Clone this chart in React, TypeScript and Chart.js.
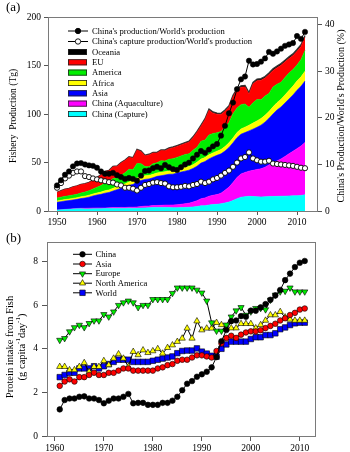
import React, { useEffect, useRef } from "react";
import { Chart, registerables } from "chart.js";

Chart.register(...registerables);

const FONT = "'Liberation Serif', 'Times New Roman', serif";

// ---------------- Panel (a) data ----------------
const yearsA = [
  1950, 1951, 1952, 1953, 1954, 1955, 1956, 1957, 1958, 1959,
  1960, 1961, 1962, 1963, 1964, 1965, 1966, 1967, 1968, 1969,
  1970, 1971, 1972, 1973, 1974, 1975, 1976, 1977, 1978, 1979,
  1980, 1981, 1982, 1983, 1984, 1985, 1986, 1987, 1988, 1989,
  1990, 1991, 1992, 1993, 1994, 1995, 1996, 1997, 1998, 1999,
  2000, 2001, 2002, 2003, 2004, 2005, 2006, 2007, 2008, 2009,
  2010, 2011, 2012,
];

const chinaCapture = [
  1.0, 1.2, 1.5, 1.7, 2.0, 2.2, 2.3, 2.1, 2.1, 2.2,
  2.3, 2.4, 2.5, 2.5, 2.7, 2.6, 2.7, 2.6, 2.8, 2.7,
  2.8, 3.0, 3.2, 3.4, 3.7, 3.7, 3.7, 3.7, 3.5, 3.4,
  3.4, 3.5, 3.7, 3.8, 4.2, 4.6, 5.4, 5.5, 6.2, 6.7,
  6.9, 7.4, 8.3, 9.2, 10.8, 12.6, 14.2, 14.8, 15.1, 14.9,
  14.8, 14.5, 14.6, 15.0, 15.0, 15.1, 15.2, 15.3, 15.5, 15.6,
  15.8, 16.0, 16.7,
];

const chinaAqua = [
  0.1, 0.1, 0.2, 0.2, 0.3, 0.4, 0.5, 0.7, 0.8, 0.9,
  0.9, 0.8, 0.7, 0.8, 0.9, 0.9, 1.0, 1.0, 1.1, 1.2,
  1.3, 1.6, 1.8, 1.7, 1.9, 2.0, 2.1, 2.4, 2.6, 2.8,
  3.0, 3.4, 3.8, 4.3, 5.0, 6.0, 7.2, 8.0, 9.0, 9.5,
  10.0, 11.0, 13.0, 15.5, 18.5, 22.0, 24.0, 25.0, 26.0, 27.0,
  28.0, 29.0, 30.5, 32.5, 34.5, 36.5, 38.5, 41.0, 43.5, 46.0,
  48.5, 51.0, 54.0,
];

const asia = [
  7.9, 8.3, 8.6, 8.8, 9.1, 9.4, 10.0, 10.6, 11.4, 12.4,
  13.3, 14.0, 15.2, 15.8, 17.0, 18.5, 19.8, 21.0, 22.6, 23.5,
  25.9, 26.8, 27.6, 28.0, 28.6, 30.0, 30.6, 31.0, 31.8, 31.8,
  32.8, 33.2, 33.6, 34.0, 34.6, 35.6, 36.8, 37.5, 38.5, 39.5,
  40.5, 40.5, 40.5, 40.8, 41.0, 41.0, 41.0, 41.0, 41.5, 42.5,
  43.5, 45.0, 46.5, 48.0, 50.5, 52.5, 53.5, 55.0, 56.5, 58.0,
  60.2, 61.5, 63.3,
];

const africa = [
  1.4, 1.5, 1.5, 1.6, 1.6, 1.7, 1.8, 1.9, 2.0, 2.0,
  2.1, 2.3, 2.5, 2.6, 2.8, 3.0, 3.2, 3.3, 3.5, 3.7,
  4.0, 3.9, 3.7, 3.6, 3.6, 3.5, 3.5, 3.4, 3.4, 3.4,
  3.5, 3.6, 3.7, 3.8, 3.9, 4.0, 4.1, 4.1, 4.2, 4.2,
  4.3, 4.5, 4.6, 4.8, 5.0, 5.2, 5.4, 5.6, 5.8, 6.2,
  6.6, 6.8, 7.0, 7.2, 7.4, 7.6, 8.0, 8.4, 8.8, 9.2,
  9.6, 9.8, 10.0,
];

const america = [
  3.0, 3.2, 3.3, 3.4, 3.5, 3.6, 4.0, 4.2, 4.6, 5.2,
  5.8, 6.8, 8.0, 8.2, 10.0, 9.0, 10.2, 11.5, 13.0, 11.5,
  15.0, 13.5, 9.5, 9.0, 11.0, 10.5, 12.0, 11.0, 12.0, 12.5,
  12.5, 13.0, 13.5, 13.0, 15.0, 15.5, 18.5, 18.0, 20.5, 20.0,
  19.0, 18.5, 20.0, 21.0, 25.0, 25.5, 25.0, 24.0, 18.5, 21.0,
  22.0, 19.5, 20.0, 18.5, 20.5, 19.0, 17.5, 18.0, 18.0, 17.0,
  16.5, 18.0, 21.5,
];

const eu = [
  5.6, 6.4, 7.1, 7.3, 8.2, 8.4, 8.6, 8.4, 8.2, 8.9,
  9.7, 10.8, 11.7, 11.6, 12.1, 12.0, 12.6, 12.6, 12.4, 11.8,
  13.9, 12.6, 11.1, 12.1, 11.0, 10.1, 10.4, 10.7, 10.9, 11.3,
  11.4, 11.4, 11.3, 12.1, 12.8, 15.5, 15.5, 21.0, 25.5, 21.0,
  19.0, 17.5, 16.5, 16.0, 17.5, 18.5, 18.0, 17.5, 13.8, 19.5,
  19.5, 20.0, 18.5, 19.5, 17.0, 17.1, 17.6, 16.1, 15.0, 14.4,
  14.1, 13.4, 13.7,
];

const oceania = [
  0.3, 0.3, 0.3, 0.3, 0.3, 0.3, 0.3, 0.3, 0.4, 0.4,
  0.4, 0.4, 0.4, 0.5, 0.5, 0.5, 0.5, 0.5, 0.6, 0.6,
  0.6, 0.6, 0.6, 0.7, 0.7, 0.7, 0.7, 0.8, 0.8, 0.8,
  0.9, 0.9, 0.9, 1.0, 1.0, 1.0, 1.1, 1.1, 1.2, 1.2,
  1.3, 1.3, 1.3, 1.3, 1.4, 1.4, 1.4, 1.5, 1.5, 1.5,
  1.6, 1.6, 1.6, 1.6, 1.7, 1.7, 1.7, 1.7, 1.7, 1.8,
  1.8, 1.8, 1.8,
];

// China's production / World's production (%)
const chinaShare = [
  5.5, 6.6, 7.8, 8.5, 9.6, 10.2, 10.3, 10.0, 9.8, 9.7,
  9.3, 8.5, 8.0, 8.0, 8.2, 7.7, 7.3, 6.9, 7.1, 6.9,
  6.5, 7.6, 8.6, 8.7, 9.2, 9.5, 9.2, 9.9, 9.4, 9.0,
  8.8, 9.4, 10.0, 10.4, 11.3, 12.1, 12.9, 12.5, 13.2, 13.9,
  14.4, 16.2, 18.3, 21.0, 23.3, 26.2, 28.3, 28.9, 32.3, 31.5,
  31.6, 32.1, 32.8, 34.2, 33.8, 34.3, 34.9, 35.5, 35.8, 36.1,
  37.6, 37.0, 38.5,
];

// China's capture production / World's production (%)
const chinaCaptureShare = [
  5.0, 6.0, 7.0, 7.6, 8.2, 8.5, 8.5, 7.5, 7.3, 7.0,
  6.8, 6.6, 6.4, 6.2, 6.1, 5.7, 5.5, 5.0, 5.0, 4.8,
  4.4, 5.0, 5.6, 5.8, 6.1, 6.2, 6.0, 5.9, 5.3, 5.1,
  5.1, 5.2, 5.4, 5.3, 5.6, 5.8, 6.3, 6.0, 6.3, 6.8,
  7.1, 7.6, 8.2, 8.7, 9.5, 10.4, 11.3, 11.6, 12.6, 11.3,
  10.9, 10.6, 10.6, 10.8, 10.2, 10.1, 10.0, 9.9, 9.8, 9.7,
  9.5, 9.3, 9.2,
];

const ticksA_left = [0, 50, 100, 150, 200];
const ticksA_right = [0, 10, 20, 30, 40];

// ---------------- Panel (b) data ----------------
const yearsB = [
  1961, 1962, 1963, 1964, 1965, 1966, 1967, 1968, 1969, 1970,
  1971, 1972, 1973, 1974, 1975, 1976, 1977, 1978, 1979, 1980,
  1981, 1982, 1983, 1984, 1985, 1986, 1987, 1988, 1989, 1990,
  1991, 1992, 1993, 1994, 1995, 1996, 1997, 1998, 1999, 2000,
  2001, 2002, 2003, 2004, 2005, 2006, 2007, 2008, 2009, 2010,
  2011,
];

const chinaB = [
  1.22, 1.65, 1.72, 1.72, 1.8, 1.82, 1.72, 1.72, 1.65, 1.5,
  1.62, 1.72, 1.72, 1.8, 1.93, 1.5, 1.52, 1.52, 1.43, 1.43,
  1.43, 1.52, 1.52, 1.62, 1.8, 2.1, 2.4, 2.52, 2.72, 2.83,
  2.95, 3.15, 3.62, 4.35, 4.86, 5.27, 5.3, 5.5, 5.47, 5.75,
  5.75, 5.9, 6.05, 6.25, 6.45, 6.7, 7.15, 7.45, 7.75, 7.95,
  8.03,
];

const asiaB = [
  2.3, 2.5, 2.6, 2.5, 2.7, 2.7, 2.8, 2.9, 2.8, 2.8,
  2.9, 2.9, 3.0, 3.1, 3.1, 3.0, 3.0, 3.0, 3.0, 3.0,
  3.1, 3.15, 3.25, 3.3, 3.45, 3.5, 3.5, 3.6, 3.7, 3.7,
  3.65, 3.6, 3.9, 4.25, 4.5, 4.6, 4.5, 4.65, 4.75, 4.8,
  4.8, 4.85, 4.95, 5.05, 5.15, 5.3, 5.4, 5.55, 5.65, 5.8,
  5.85,
];

const europeB = [
  4.4, 4.48, 4.79, 4.98, 5.09, 4.98, 5.17, 5.29, 5.29, 5.58,
  5.47, 5.7, 6.0, 6.12, 6.2, 6.12, 5.9, 6.0, 6.0, 6.27,
  6.27, 6.27, 6.27, 6.55, 6.8, 6.8, 6.8, 6.8, 6.7, 6.57,
  6.2, 5.2, 4.82, 4.82, 5.1, 5.47, 5.75, 5.9, 5.55, 5.7,
  5.86, 5.86, 5.8, 6.24, 6.47, 6.62, 6.65, 6.8, 6.62, 6.62,
  6.62,
];

const northAmericaB = [
  3.18, 3.18, 3.03, 3.03, 3.18, 3.36, 2.95, 3.18, 3.18, 3.45,
  3.26, 3.56, 3.76, 3.56, 3.18, 3.87, 3.72, 3.94, 3.82, 3.9,
  4.0, 3.79, 4.05, 4.17, 4.33, 4.48, 4.94, 4.48, 5.27, 4.86,
  4.94, 4.94, 5.2, 5.1, 4.94, 4.95, 4.95, 5.15, 5.15, 5.15,
  4.95, 5.1, 5.3, 5.55, 5.55, 5.7, 5.45, 5.35, 5.3, 5.3,
  5.3,
];

const worldB = [
  2.7, 2.8, 2.9, 2.9, 3.1, 3.1, 3.1, 3.2, 3.1, 3.2,
  3.3, 3.4, 3.5, 3.5, 3.5, 3.4, 3.4, 3.4, 3.4, 3.45,
  3.5, 3.55, 3.6, 3.65, 3.8, 3.9, 3.92, 3.92, 4.02, 3.87,
  3.78, 3.68, 3.64, 4.0, 4.2, 4.33, 4.33, 4.33, 4.33, 4.45,
  4.53, 4.53, 4.63, 4.63, 4.71, 4.9, 4.98, 5.09, 5.17, 5.2,
  5.2,
];

const ticksB_y = [0, 2, 4, 6, 8];

// ---------------- helpers ----------------
const pts = (xs: number[], ys: number[]) => xs.map((x, i) => ({ x, y: ys[i] }));

function drawMarker(
  ctx: CanvasRenderingContext2D,
  style: string,
  x: number,
  y: number,
  r: number,
  fill: string,
  stroke: string,
  lw: number
) {
  ctx.beginPath();
  if (style === "circle") {
    ctx.arc(x, y, r, 0, Math.PI * 2);
  } else if (style === "rect") {
    const s = r * Math.SQRT1_2;
    ctx.rect(x - s, y - s, 2 * s, 2 * s);
  } else if (style === "triangle" || style === "triangleDown") {
    const d = style === "triangle" ? 1 : -1;
    const a0 = -Math.PI / 2;
    for (let k = 0; k < 3; k++) {
      const a = a0 + (k * 2 * Math.PI) / 3;
      const px = x + r * Math.cos(a);
      const py = y + d * r * Math.sin(a);
      if (k === 0) ctx.moveTo(px, py);
      else ctx.lineTo(px, py);
    }
    ctx.closePath();
  }
  ctx.fillStyle = fill;
  ctx.fill();
  ctx.lineWidth = lw;
  ctx.strokeStyle = stroke;
  ctx.stroke();
}

function rotatedText(ctx: CanvasRenderingContext2D, text: string, cx: number, cy: number, font: string) {
  ctx.save();
  ctx.translate(cx, cy);
  ctx.rotate(-Math.PI / 2);
  ctx.font = font;
  ctx.fillStyle = "#000";
  ctx.textAlign = "center";
  ctx.textBaseline = "middle";
  ctx.fillText(text, 0, 0);
  ctx.restore();
}

const tickFont = { family: FONT, size: 9.5 };
const FRAME = "#7a7a7a";

function axisX(min: number, max: number, h: number, tl: number) {
  return {
    type: "linear" as const,
    min,
    max,
    ticks: {
      stepSize: 10,
      includeBounds: false,
      callback: (v: any) => String(v),
      font: tickFont,
      color: "#000",
      padding: 2,
      maxRotation: 0,
      autoSkip: false,
    },
    grid: { display: true, drawOnChartArea: false, drawTicks: true, tickLength: tl, color: "#555", tickColor: "#555" },
    border: { display: false },
    afterFit: (s: any) => {
      s.height = h;
    },
  };
}

// ---------------- panel A chart ----------------
function makeChartA(canvas: HTMLCanvasElement) {
  const areaDs = (label: string, data: number[], color: string, fill: any, border?: string, bw?: number) => ({
    label,
    data: pts(yearsA, data),
    yAxisID: "y",
    backgroundColor: color,
    borderColor: border || color,
    borderWidth: bw === undefined ? 0.6 : bw,
    pointRadius: 0,
    fill,
    tension: 0,
  });

  const legendA = {
    id: "legendA",
    afterDraw(chart: any) {
      const ctx: CanvasRenderingContext2D = chart.ctx;
      const ca = chart.chartArea;
      ctx.save();
      ctx.strokeStyle = FRAME;
      ctx.lineWidth = 1;
      ctx.strokeRect(ca.left + 0.5, ca.top + 0.5, ca.right - ca.left - 1, ca.bottom - ca.top);
      ctx.restore();

      ctx.save();
      ctx.fillStyle = "#000";
      ctx.font = `13px ${FONT}`;
      ctx.textBaseline = "middle";
      ctx.textAlign = "left";
      ctx.fillText("(a)", 6, 8);
      ctx.restore();

      rotatedText(ctx, "Fishery  Production (Tg)", 13, 116, `9.5px ${FONT}`);
      rotatedText(ctx, "China's Production/World's Production (%)", 341, 116, `10px ${FONT}`);

      const x0 = 68, x1 = 88, xm = 78, tx = 92;
      const rows = [31, 41.5, 52, 62.3, 72.6, 83, 93.3, 103.6, 114];
      const labels = [
        "China's production/World's production",
        "China's capture production/World's production",
        "Oceania",
        "EU",
        "America",
        "Africa",
        "Asia",
        "China (Aquaculture)",
        "China (Capture)",
      ];
      const colors = ["", "", "#000000", "#ff0000", "#00ee00", "#ffff00", "#0000ff", "#ff00ff", "#00ffff"];
      ctx.save();
      rows.forEach((ry, i) => {
        if (i < 2) {
          ctx.beginPath();
          ctx.moveTo(x0, ry);
          ctx.lineTo(x1, ry);
          ctx.strokeStyle = "#000";
          ctx.lineWidth = 1;
          ctx.stroke();
          drawMarker(ctx, "circle", xm, ry, 2.7, i === 0 ? "#000" : "#fff", "#000", 0.9);
        } else {
          ctx.fillStyle = colors[i];
          ctx.fillRect(x0, ry - 3, x1 - x0 - 1, 6);
          ctx.strokeStyle = "#222";
          ctx.lineWidth = 0.8;
          ctx.strokeRect(x0 + 0.4, ry - 3 + 0.4, x1 - x0 - 1.8, 5.2);
        }
        ctx.fillStyle = "#000";
        ctx.font = `8.6px ${FONT}`;
        ctx.textBaseline = "middle";
        ctx.textAlign = "left";
        ctx.fillText(labels[i], tx, ry + 0.5);
      });
      ctx.restore();
    },
  };

  return new Chart(canvas, {
    type: "line",
    data: {
      datasets: [
        {
          label: "China's production/World's production",
          data: pts(yearsA, chinaShare),
          yAxisID: "y1",
          borderColor: "#000",
          borderWidth: 1,
          pointRadius: 2.7,
          pointBackgroundColor: "#000",
          pointBorderColor: "#000",
          pointBorderWidth: 0.5,
          fill: false,
          tension: 0,
        },
        {
          label: "China's capture production/World's production",
          data: pts(yearsA, chinaCaptureShare),
          yAxisID: "y1",
          borderColor: "#000",
          borderWidth: 1,
          pointRadius: 2.6,
          pointBackgroundColor: "#fff",
          pointBorderColor: "#000",
          pointBorderWidth: 0.9,
          fill: false,
          tension: 0,
        },
        areaDs("China (Capture)", chinaCapture, "#00ffff", "origin"),
        areaDs("China (Aquaculture)", chinaAqua, "#ff00ff", "-1"),
        areaDs("Asia", asia, "#0000ff", "-1"),
        areaDs("Africa", africa, "#ffff00", "-1"),
        areaDs("America", america, "#00ee00", "-1"),
        areaDs("EU", eu, "#ff0000", "-1"),
        areaDs("Oceania", oceania, "#000000", "-1", "#333333", 1.3),
      ] as any,
    },
    options: {
      animation: false,
      responsive: false,
      devicePixelRatio: 1,
      layout: { padding: { top: 17, left: 0, right: 0, bottom: 0 } },
      plugins: { legend: { display: false }, tooltip: { enabled: false } },
      scales: {
        x: axisX(1947.75, 2015.25, 15, 4),
        y: {
          stacked: true,
          position: "left",
          min: 0,
          max: 200,
          afterBuildTicks: (s: any) => {
            s.ticks = ticksA_left.map((v) => ({ value: v }));
          },
          ticks: { font: tickFont, color: "#000", padding: 3 },
          grid: { display: true, drawOnChartArea: false, drawTicks: true, tickLength: 4, color: "#555", tickColor: "#555" },
          border: { display: false },
          afterFit: (s: any) => {
            s.width = 48;
          },
        },
        y1: {
          position: "right",
          min: 0,
          max: 41.7,
          afterBuildTicks: (s: any) => {
            s.ticks = ticksA_right.map((v) => ({ value: v }));
          },
          ticks: { font: tickFont, color: "#000", padding: 3 },
          grid: { display: true, drawOnChartArea: false, drawTicks: true, tickLength: 4, color: "#555", tickColor: "#555" },
          border: { display: false },
          afterFit: (s: any) => {
            s.width = 32;
          },
        },
      } as any,
    },
    plugins: [legendA],
  });
}

// ---------------- panel B chart ----------------
function makeChartB(canvas: HTMLCanvasElement) {
  const series = [
    { label: "China", data: chinaB, style: "circle", color: "#000000", r: 2.8 },
    { label: "Asia", data: asiaB, style: "circle", color: "#ff0000", r: 2.8 },
    { label: "Europe", data: europeB, style: "triangleDown", color: "#00ee00", r: 3.6 },
    { label: "North America", data: northAmericaB, style: "triangle", color: "#ffff00", r: 3.6 },
    { label: "World", data: worldB, style: "rect", color: "#0000ff", r: 3.9 },
  ];

  const legendB = {
    id: "legendB",
    afterDraw(chart: any) {
      const ctx: CanvasRenderingContext2D = chart.ctx;
      const ca = chart.chartArea;
      ctx.save();
      ctx.strokeStyle = FRAME;
      ctx.lineWidth = 1;
      ctx.strokeRect(ca.left + 0.5, ca.top + 0.5, ca.right - ca.left - 1, ca.bottom - ca.top);
      ctx.restore();

      ctx.save();
      ctx.fillStyle = "#000";
      ctx.font = `13px ${FONT}`;
      ctx.textBaseline = "middle";
      ctx.textAlign = "left";
      ctx.fillText("(b)", 6, 13);
      ctx.restore();

      rotatedText(ctx, "Protein intake from Fish", 10, 121, `10.5px ${FONT}`);

      // second line with superscripts
      ctx.save();
      ctx.translate(22, 121);
      ctx.rotate(-Math.PI / 2);
      ctx.fillStyle = "#000";
      ctx.textBaseline = "middle";
      ctx.textAlign = "left";
      const big = `10.5px ${FONT}`;
      const small = `7px ${FONT}`;
      const parts: [string, boolean][] = [
        ["(g capita", false],
        ["-1", true],
        ["day", false],
        ["-1", true],
        [")", false],
      ];
      let total = 0;
      parts.forEach(([t, sup]) => {
        ctx.font = sup ? small : big;
        total += ctx.measureText(t).width;
      });
      let x = -total / 2;
      parts.forEach(([t, sup]) => {
        ctx.font = sup ? small : big;
        ctx.fillText(t, x, sup ? -3.5 : 0);
        x += ctx.measureText(t).width;
      });
      ctx.restore();

      const x0 = 73, x1 = 92, xm = 82.5, tx = 95.5;
      const rows = [28.3, 38, 47.7, 57.2, 66.8];
      ctx.save();
      series.forEach((s, i) => {
        const ry = rows[i];
        ctx.beginPath();
        ctx.moveTo(x0, ry);
        ctx.lineTo(x1, ry);
        ctx.strokeStyle = "#000";
        ctx.lineWidth = 1;
        ctx.stroke();
        drawMarker(ctx, s.style, xm, ry, s.r, s.color, "#000", 0.6);
        ctx.fillStyle = "#000";
        ctx.font = `8.6px ${FONT}`;
        ctx.textBaseline = "middle";
        ctx.textAlign = "left";
        ctx.fillText(s.label, tx, ry + 0.5);
      });
      ctx.restore();
    },
  };

  return new Chart(canvas, {
    type: "line",
    data: {
      datasets: series.map((s) => ({
        label: s.label,
        data: pts(yearsB, s.data),
        borderColor: "#000",
        borderWidth: 1,
        pointStyle: s.style === "triangleDown" ? "triangle" : s.style,
        pointRotation: s.style === "triangleDown" ? 180 : 0,
        pointRadius: s.r,
        pointBackgroundColor: s.color,
        pointBorderColor: "#000",
        pointBorderWidth: 0.6,
        fill: false,
        tension: 0,
      })) as any,
    },
    options: {
      animation: false,
      responsive: false,
      devicePixelRatio: 1,
      layout: { padding: { top: 16, left: 0, right: 34, bottom: 0 } },
      plugins: { legend: { display: false }, tooltip: { enabled: false } },
      scales: {
        x: axisX(1958.4, 2013.3, 16, 5),
        y: {
          min: 0,
          max: 8.9,
          afterBuildTicks: (s: any) => {
            s.ticks = ticksB_y.map((v) => ({ value: v }));
          },
          ticks: { font: tickFont, color: "#000", padding: 4 },
          grid: { display: true, drawOnChartArea: false, drawTicks: true, tickLength: 5, color: "#555", tickColor: "#555" },
          border: { display: false },
          afterFit: (s: any) => {
            s.width = 47;
          },
        },
      } as any,
    },
    plugins: [legendB],
  });
}

export default function App() {
  const refA = useRef<HTMLCanvasElement | null>(null);
  const refB = useRef<HTMLCanvasElement | null>(null);

  useEffect(() => {
    document.body.style.margin = "0";
    const a = refA.current ? makeChartA(refA.current) : null;
    const b = refB.current ? makeChartB(refB.current) : null;
    return () => {
      a && a.destroy();
      b && b.destroy();
    };
  }, []);

  return (
    <div style={{ position: "relative", width: 350, height: 452, background: "#fff", overflow: "hidden" }}>
      <canvas ref={refA} width={350} height={226} style={{ position: "absolute", left: 0, top: 0, width: 350, height: 226 }} />
      <canvas ref={refB} width={350} height={226} style={{ position: "absolute", left: 0, top: 226, width: 350, height: 226 }} />
    </div>
  );
}
